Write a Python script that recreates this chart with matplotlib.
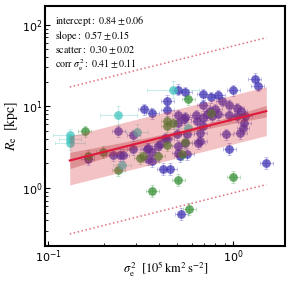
import numpy as np
import matplotlib
matplotlib.use("Agg")
import matplotlib.pyplot as plt

plt.rcParams['mathtext.fontset'] = 'stix'
plt.rcParams['font.family'] = ['DejaVu Sans']

# fit results (log10 space)
intercept, intercept_err = 0.84, 0.06
slope, slope_err = 0.57, 0.15
scatter, scatter_err = 0.30, 0.02
corr, corr_err = 0.41, 0.11

# blue sample
blue_x = [0.504, 0.550, 0.440, 0.330, 0.365, 0.440, 0.504, 0.550, 0.631, 1.31,
          1.36, 1.0, 0.689, 0.760, 0.830, 0.872, 0.689, 0.951, 1.05, 1.10,
          0.800, 0.723, 0.830, 0.951, 1.05, 0.689, 1.15, 1.13, 1.09, 0.917,
          0.663, 0.663, 0.564, 0.498, 0.429, 0.403, 0.347, 0.951, 0.504, 0.689,
          0.751, 0.543, 0.288, 0.440, 0.288, 0.343, 0.365, 0.347, 0.365, 0.393,
          0.504, 0.550, 0.504, 0.517, 0.647, 0.418, 0.456, 0.239, 0.224, 0.245,
          0.254, 0.164, 1.51, 0.524, 0.564, 0.769, 1.16, 0.639]
blue_y = [16.1, 14.8, 11.8, 9.19, 8.22, 8.94, 7.76, 7.34, 7.76, 21.9,
          18.0, 15.7, 14.0, 12.9, 13.6, 11.8, 10.3, 10.3, 9.46, 8.69,
          9.19, 7.99, 7.99, 7.76, 7.55, 7.14, 6.20, 5.39, 4.69, 4.56,
          4.69, 3.74, 4.56, 4.56, 4.07, 3.44, 3.07, 2.99, 6.20, 5.70,
          8.69, 6.94, 4.43, 3.96, 2.99, 2.99, 2.75, 2.26, 2.13, 3.25,
          3.25, 3.54, 2.67, 2.46, 3.54, 1.71, 1.71, 4.96, 2.53, 2.53,
          2.53, 2.26, 2.02, 0.482, 2.60, 7.55, 7.55, 6.60]

# green sample
green_x = [0.158, 0.164, 0.239, 0.571, 0.760, 0.440, 0.474, 0.440, 0.198, 0.326,
           0.314, 0.393, 0.440, 0.530, 0.550, 0.504, 0.365, 1.0, 0.578]
green_y = [4.96, 2.46, 1.66, 12.2, 8.22, 6.56, 6.20, 5.70, 2.75, 2.46,
           2.32, 2.46, 3.35, 2.60, 3.64, 1.25, 0.918, 1.36, 0.555]

# cyan sample
cyan_x = [0.131, 0.131, 0.131, 0.239, 0.303, 0.474, 0.571, 0.251]
cyan_y = [4.43, 3.96, 3.54, 7.76, 4.82, 16.1, 5.39, 1.91]
cyan_xerr_dex = [0.09, 0.06, 0.08, 0.10, 0.06, 0.14, 0.08, 0.05]
cyan_yerr_dex = [0.08, 0.07, 0.08, 0.12, 0.10, 0.10, 0.08, 0.08]

xerr_dex = 0.035
yerr_dex = 0.07


def log_err(v, d):
    v = np.asarray(v)
    d = np.asarray(d)
    return [v - v / 10**d, v * 10**d - v]


fig = plt.figure(figsize=(2.91, 2.84), dpi=100)
ax = fig.add_axes([0.155, 0.134, 0.825, 0.845])

samples = [
    (blue_x, blue_y, [xerr_dex] * len(blue_x), [yerr_dex] * len(blue_x), '#3a2db0', '#8c86d8'),
    (green_x, green_y, [xerr_dex] * len(green_x), [yerr_dex] * len(green_x), '#2e8b2e', '#8cc48c'),
    (cyan_x, cyan_y, cyan_xerr_dex, cyan_yerr_dex, '#3cc4bc', '#9fe0dc'),
]
for xs, ys, dx, dy, col, ecol in samples:
    ax.errorbar(xs, ys, xerr=log_err(xs, dx), yerr=log_err(ys, dy), fmt='none',
                ecolor=ecol, elinewidth=0.8, capsize=1.5, capthick=0.6, alpha=0.6, zorder=1)
    ax.plot(xs, ys, 'o', ms=6.3, color=col, mec='none', alpha=0.72, zorder=2)

# fit line, bands
lx = np.linspace(np.log10(0.131), np.log10(1.51), 100)
ly = intercept + slope * lx
conf = np.sqrt(0.03**2 + (slope_err * (lx + 0.25))**2)
xx = 10**lx
ax.fill_between(xx, 10**(ly - scatter), 10**(ly + scatter), color='#d9363e', alpha=0.3,
                lw=0, zorder=3)
ax.fill_between(xx, 10**(ly - conf), 10**(ly + conf), color='#b02028', alpha=0.3,
                lw=0, zorder=3)
ax.plot(xx, 10**ly, color='#e0183c', lw=1.5, zorder=4)
ax.plot(xx, 10**(ly + 3 * scatter), ls=':', color='#e27080', lw=1.1, zorder=4)
ax.plot(xx, 10**(ly - 3 * scatter), ls=':', color='#e27080', lw=1.1, zorder=4)

ax.set_xscale('log')
ax.set_yscale('log')
ax.set_xlim(0.0964, 1.91)
ax.set_ylim(0.195, 170)
ax.tick_params(which='both', direction='in', labelsize=8, pad=2)
for s in ax.spines.values():
    s.set_linewidth(1.5)

ax.set_xlabel(r'$\sigma_{\rm e}^2\ \ [10^5\,{\rm km^2\,s^{-2}}]$', fontsize=9)
ax.xaxis.set_label_coords(0.5, -0.055)
ax.set_ylabel(r'$R_{\rm e}\ \ [{\rm kpc}]$', fontsize=10)
ax.yaxis.set_label_coords(-0.105, 0.5)

txt = (r'${\rm intercept:}\ 0.84 \pm 0.06$' + '\n'
       r'${\rm slope:}\ 0.57 \pm 0.15$' + '\n'
       r'${\rm scatter:}\ 0.30 \pm 0.02$' + '\n'
       r'${\rm corr}\ \sigma_{\rm e}^2{\rm :}\ 0.41 \pm 0.11$')
ax.text(0.04, 0.965, txt, transform=ax.transAxes, va='top', ha='left',
        fontsize=7.2, linespacing=1.1)

fig.savefig('out.png', dpi=100)
